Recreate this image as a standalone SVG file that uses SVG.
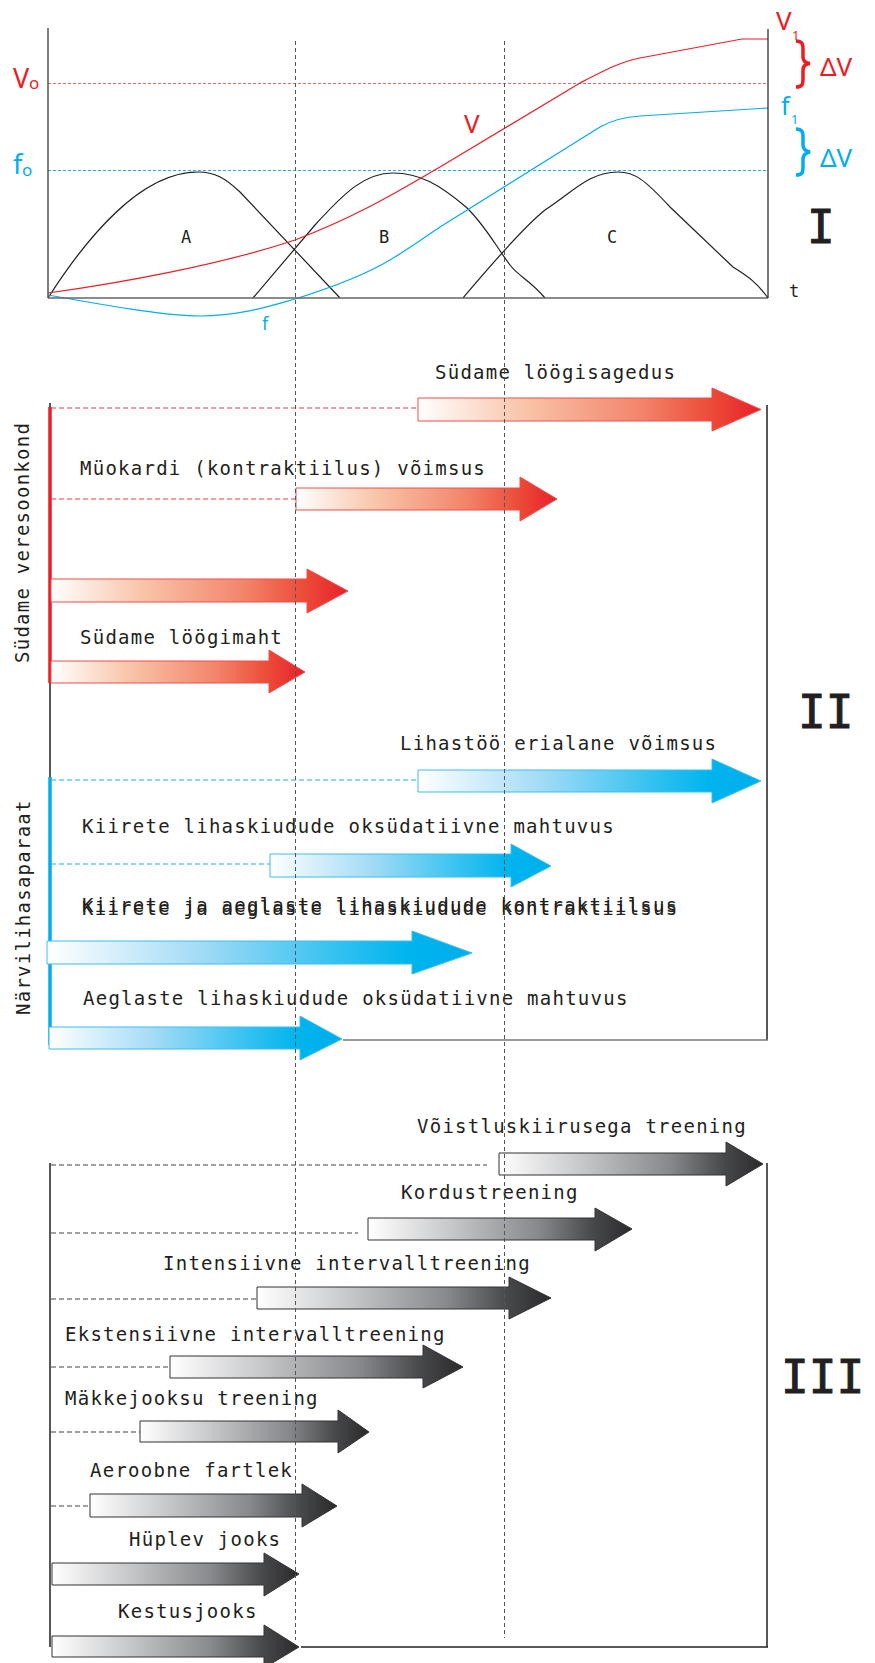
<svg xmlns="http://www.w3.org/2000/svg" width="875" height="1663" viewBox="0 0 875 1663">
<style>
.mono{font-family:"DejaVu Sans Mono","Liberation Mono",monospace;font-size:19px;letter-spacing:1.25px;fill:#231f20}
.sans{font-family:"Noto Sans","Open Sans","Liberation Sans",sans-serif}
.roman{font-family:"DejaVu Sans Mono","Liberation Mono",monospace;font-size:46px;font-weight:normal;fill:#231f20;stroke:#231f20;stroke-width:1}
.red{fill:#ed1c24}
.blue{fill:#00aeef}
.curve{fill:none;stroke-width:1.2}
.vdash{stroke:#555;stroke-width:1;stroke-dasharray:4 3;fill:none}
.rdash{stroke:#ef3b3b;stroke-width:1.2;stroke-dasharray:5 3;fill:none}
.bdash{stroke:#16b2ec;stroke-width:1.2;stroke-dasharray:5 3;fill:none}
.gdash{stroke:#444;stroke-width:1.2;stroke-dasharray:5 3;fill:none}
.ra{fill:url(#gRed);stroke:#ef4d4d;stroke-width:1}
.ba{fill:url(#gBlue);stroke:#3dbdee;stroke-width:1}
.ga{fill:url(#gGray);stroke:#333;stroke-width:1}
.frame{stroke:#231f20;stroke-width:1.5;fill:none}
</style>
<defs>
<linearGradient id="gRed" x1="0" y1="0" x2="1" y2="0">
<stop offset="0" stop-color="#ffffff"/>
<stop offset="0.3" stop-color="#f9c6ab"/>
<stop offset="0.65" stop-color="#f2856a"/>
<stop offset="0.85" stop-color="#ec4c38"/>
<stop offset="1" stop-color="#e8202a"/>
</linearGradient>
<linearGradient id="gBlue" x1="0" y1="0" x2="1" y2="0">
<stop offset="0" stop-color="#ffffff"/>
<stop offset="0.35" stop-color="#a6dcf6"/>
<stop offset="0.7" stop-color="#2ec0f0"/>
<stop offset="0.85" stop-color="#00b4ee"/>
<stop offset="1" stop-color="#00aeea"/>
</linearGradient>
<linearGradient id="gGray" x1="0" y1="0" x2="1" y2="0">
<stop offset="0" stop-color="#ffffff"/>
<stop offset="0.3" stop-color="#c9cacc"/>
<stop offset="0.65" stop-color="#86888b"/>
<stop offset="0.85" stop-color="#48494b"/>
<stop offset="1" stop-color="#2a2a2b"/>
</linearGradient>
</defs>
<rect width="875" height="1663" fill="#ffffff"/>

<!-- Section I: chart -->
<g id="chart">
<line x1="48" y1="83.5" x2="768" y2="83.5" stroke="#f06464" stroke-width="1.2" stroke-dasharray="3 2"/>
<line x1="48" y1="170.5" x2="768" y2="170.5" stroke="#1ab0ec" stroke-width="1.2" stroke-dasharray="3 2"/>
<path class="curve" stroke="#231f20" d="M48,298 C85,240 140,172 198,172 C215,172 225,178 240,192 L340,298"/>
<path class="curve" stroke="#231f20" d="M253,298 L315,225 C345,192 365,173 393,173 C420,173 440,185 466,207 C485,225 495,245 510,265 C518,276 530,280 545,298"/>
<path class="curve" stroke="#231f20" d="M463,298 C480,278 520,230 545,210 C575,190 590,172 618,172 C635,172 645,180 670,207 L733,267 C745,275 755,280 768,298"/>
<path class="curve" stroke="#ed1c24" d="M48,293 C120,283 220,265 295,240 C360,215 400,190 440,167 L580,83 C605,70 620,62 640,58 L742,39 L768,39"/>
<path class="curve" stroke="#00aeef" d="M48,295 C120,308 170,316 200,316 C240,316 270,306 295,299 C330,288 365,275 390,260 C410,248 425,237 440,227 L600,127 C612,120 625,117 640,116 L768,108"/>
<line x1="48" y1="28" x2="48" y2="298" stroke="#555" stroke-width="1.5"/>
<line x1="48" y1="298" x2="768" y2="298" stroke="#666" stroke-width="1.5"/>
<line x1="768" y1="29" x2="768" y2="298" stroke="#231f20" stroke-width="1.2"/>
<text class="sans red" x="13" y="88" font-size="27">V</text>
<text class="sans red" x="29" y="89" font-size="17">o</text>
<text class="sans blue" x="13" y="174" font-size="27">f</text>
<text class="sans blue" x="22" y="176" font-size="17">o</text>
<text class="sans red" x="464" y="133" font-size="26">V</text>
<text class="sans red" x="776" y="30" font-size="26">V</text>
<text class="sans red" x="792" y="40" font-size="13">1</text>
<text class="sans blue" x="781" y="115" font-size="25">f</text>
<text class="sans blue" x="791" y="124" font-size="13">1</text>
<path d="M796,41 C803,41 803,45 803,50 L803,57 C803,61 805,63 810,63.5 C805,64 803,66 803,70 L803,78 C803,84 803,87 796,87" fill="none" stroke="#ed1c24" stroke-width="3.5"/>
<path d="M796,129 C803,129 803,133 803,138 L803,145 C803,149 805,151 810,152 C805,153 803,155 803,159 L803,166 C803,172 803,175 796,175" fill="none" stroke="#00aeef" stroke-width="3.5"/>
<text class="sans red" x="820" y="76" font-size="26">ΔV</text>
<text class="sans blue" x="820" y="167" font-size="26">ΔV</text>
<text class="mono" x="186" y="243" text-anchor="middle" style="font-size:17px;letter-spacing:0">A</text>
<text class="mono" x="384" y="243" text-anchor="middle" style="font-size:17px;letter-spacing:0">B</text>
<text class="mono" x="612" y="243" text-anchor="middle" style="font-size:17px;letter-spacing:0">C</text>
<text class="mono" x="789" y="297" style="font-size:17px;letter-spacing:0">t</text>
<text class="sans blue" x="262" y="330" font-size="18">f</text>
<text class="roman" x="807" y="243">I</text>
</g>

<!-- Section II frame -->
<g id="frame-II">
<line class="frame" x1="50" y1="403" x2="50" y2="1047"/>
<line class="frame" x1="767" y1="405" x2="767" y2="1040"/>
<line x1="343" y1="1040" x2="768" y2="1040" stroke="#777" stroke-width="1.5"/>
<line x1="50" y1="407" x2="50" y2="683" stroke="#ed1c24" stroke-width="3.5"/>
<line x1="50" y1="777" x2="50" y2="1045" stroke="#00aeef" stroke-width="3.5"/>
<text class="mono" transform="translate(28.5,663) rotate(-90)" x="0" y="0">Südame veresoonkond</text>
<text class="mono" transform="translate(30,1015) rotate(-90)" x="0" y="0">Närvilihasaparaat</text>
<text class="roman" x="798" y="728">II</text>
</g>

<!-- Section III frame -->
<g id="frame-III">
<line class="frame" x1="50" y1="1163" x2="50" y2="1647"/>
<line class="frame" x1="767" y1="1163" x2="767" y2="1647"/>
<line class="frame" x1="301" y1="1647" x2="768" y2="1647"/>
<text class="roman" x="781" y="1393">III</text>
</g>

<!-- Connectors (dashed lead lines) -->
<g id="connectors">
<line class="rdash" x1="51" y1="408" x2="418" y2="408"/>
<line class="rdash" x1="51" y1="499" x2="296" y2="499"/>
<line class="bdash" x1="51" y1="780" x2="418" y2="780"/>
<line class="bdash" x1="51" y1="864" x2="272" y2="864"/>
<line class="gdash" x1="51" y1="1165" x2="487" y2="1165"/>
<line class="gdash" x1="51" y1="1233" x2="358" y2="1233"/>
<line class="gdash" x1="51" y1="1299" x2="257" y2="1299"/>
<line class="gdash" x1="51" y1="1367" x2="170" y2="1367"/>
<line class="gdash" x1="51" y1="1432" x2="140" y2="1432"/>
<line class="gdash" x1="51" y1="1506" x2="90" y2="1506"/>
</g>

<!-- Red arrows -->
<g id="r1"><polygon class="ra" points="418,398 712,398 712,388 761,409.5 712,431 712,421 418,421"/><text class="mono" x="435" y="379">Südame löögisagedus</text></g>
<g id="r2"><polygon class="ra" points="296,488 520,488 520,477 557,499 520,521 520,510 296,510"/><text class="mono" x="80" y="475">Müokardi (kontraktiilus) võimsus</text></g>
<g id="r3"><polygon class="ra" points="51,579 307,579 307,569 348,591 307,613 307,602 51,602"/></g>
<g id="r4"><polygon class="ra" points="51,661 269,661 269,650 305,672 269,693 269,683 51,683"/><text class="mono" x="80" y="644">Südame löögimaht</text></g>

<!-- Blue arrows -->
<g id="b1"><polygon class="ba" points="418,770 712,770 712,759 761,781 712,803 712,792 418,792"/><text class="mono" x="400" y="750">Lihastöö erialane võimsus</text></g>
<g id="b2"><polygon class="ba" points="270,854 511,854 511,844 551,866 511,887 511,877 270,877"/><text class="mono" x="82" y="833">Kiirete lihaskiudude oksüdatiivne mahtuvus</text></g>
<g id="b3"><polygon class="ba" points="47,941 412,941 412,931 472,953 412,974 412,964 47,964"/><text class="mono" x="82" y="912">Kiirete ja aeglaste lihaskiudude kontraktiilsus</text><text class="mono" x="82" y="915">Kiirete ja aeglaste lihaskiudude kontraktiilsus</text></g>
<g id="b4"><polygon class="ba" points="49,1027 300,1027 300,1016 342,1039 300,1060 300,1049 49,1049"/><text class="mono" x="83" y="1005">Aeglaste lihaskiudude oksüdatiivne mahtuvus</text></g>

<!-- Gray arrows -->
<g id="g1"><polygon class="ga" points="499,1153 726,1153 726,1142 763,1164 726,1186 726,1175 499,1175"/><text class="mono" x="417" y="1133">Võistluskiirusega treening</text></g>
<g id="g2"><polygon class="ga" points="368,1218 595,1218 595,1208 632,1229 595,1251 595,1240 368,1240"/><text class="mono" x="401" y="1199">Kordustreening</text></g>
<g id="g3"><polygon class="ga" points="257,1287 509,1287 509,1277 551,1298 509,1319 509,1309 257,1309"/><text class="mono" x="163" y="1270">Intensiivne intervalltreening</text></g>
<g id="g4"><polygon class="ga" points="170,1356 423,1356 423,1345 463,1367 423,1388 423,1378 170,1378"/><text class="mono" x="65" y="1341">Ekstensiivne intervalltreening</text></g>
<g id="g5"><polygon class="ga" points="140,1421 338,1421 338,1410 369,1432 338,1453 338,1442 140,1442"/><text class="mono" x="65" y="1405">Mäkkejooksu treening</text></g>
<g id="g6"><polygon class="ga" points="90,1494 302,1494 302,1484 337,1506 302,1527 302,1517 90,1517"/><text class="mono" x="90" y="1477">Aeroobne fartlek</text></g>
<g id="g7"><polygon class="ga" points="52,1563 264,1563 264,1553 299,1574 264,1596 264,1585 52,1585"/><text class="mono" x="129" y="1546">Hüplev jooks</text></g>
<g id="g8"><polygon class="ga" points="52,1636 264,1636 264,1625 299,1647 264,1668 264,1657 52,1657"/><text class="mono" x="118" y="1618">Kestusjooks</text></g>

<!-- Vertical time guides -->
<g id="guides">
<line class="vdash" x1="295.5" y1="41" x2="295.5" y2="1640"/>
<line class="vdash" x1="504.5" y1="41" x2="504.5" y2="1638"/>
</g>
</svg>
